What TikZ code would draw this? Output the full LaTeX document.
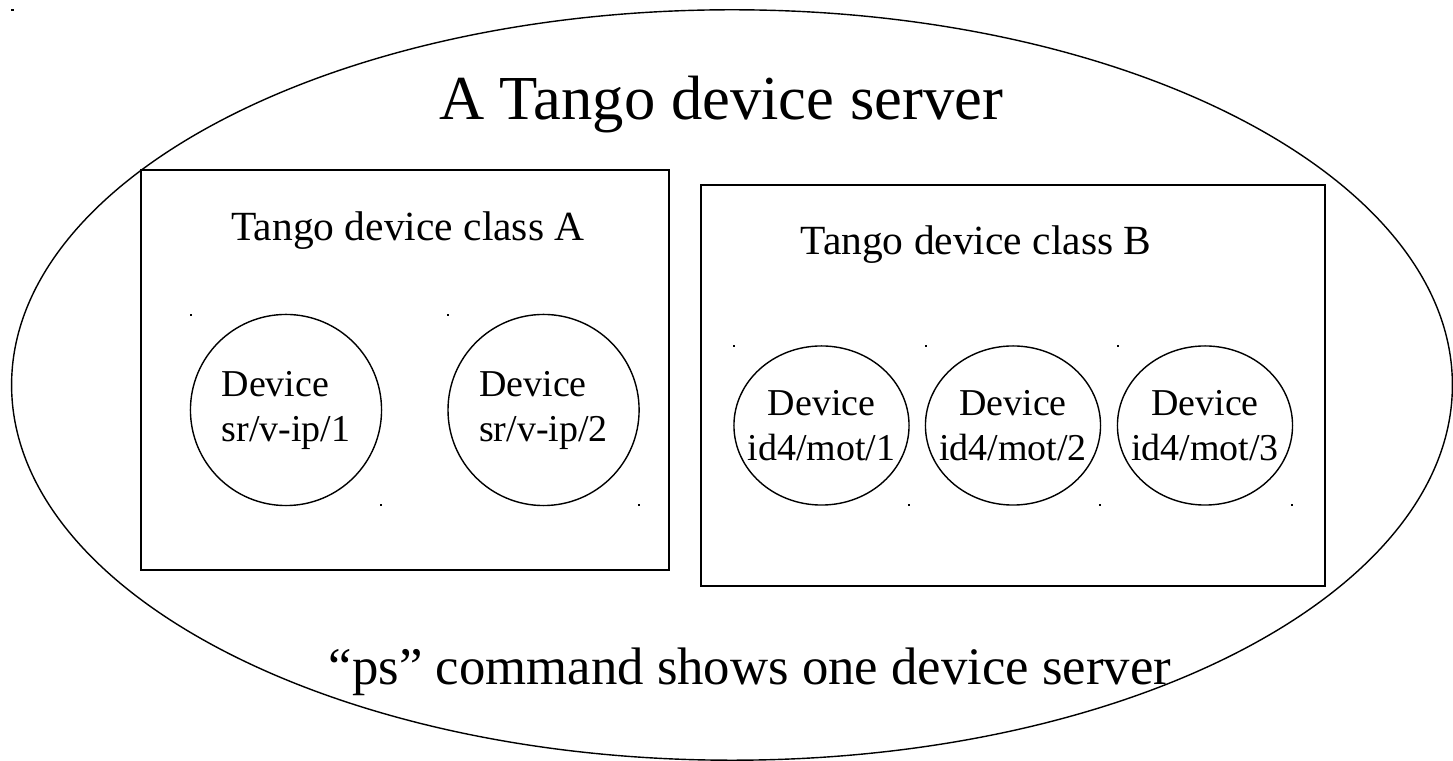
\documentclass[tikz,border=0pt]{standalone}
\usepackage{fontspec}
\setmainfont{Liberation Serif}
\usetikzlibrary{shapes,positioning}

\begin{document}
\begin{tikzpicture}[x=0.01cm, y=-0.01cm, node distance=0.65cm, inner sep=0pt]
        % Define block styles
        \tikzstyle{server} = [ellipse, draw, minimum width=14.4cm, minimum height=7.5cm]
        \tikzstyle{classbox} = [rectangle, draw]
        \tikzstyle{device} = [circle, draw, minimum size=1.91cm, align=left, font=\fontsize{10.8}{12.8}\selectfont]
        \tikzstyle{devoval} = [ellipse, draw, minimum width=1.75cm, minimum height=1.59cm]
        \tikzstyle{devtext} = [align=center, font=\fontsize{10.8}{12.8}\selectfont]
        \tikzstyle{label} = [anchor=base]

        \useasboundingbox (0,0) rectangle (1453,761);

        % Server and classes
        \node [server] (Server) at (732,385) {};
        \node [classbox, minimum width=5.28cm, minimum height=4cm] (Class_A) at (405,370) {};
        \node [classbox, minimum width=6.24cm, minimum height=4.01cm] (Class_B) at (1013,385.5) {};

        % Texts
        \node [label, font=\fontsize{17.8}{20}\selectfont] (Server_Name) at (721,120) {A Tango device server};
        \node [label, font=\fontsize{11.8}{14}\selectfont] (Class_A_Name) at (408,241) {Tango device class A};
        \node [label, font=\fontsize{11.8}{14}\selectfont] (Class_B_Name) at (976,255) {Tango device class B};
        \node [label, font=\fontsize{15}{18}\selectfont] (Ps_Note) at (750,685) {``ps'' command shows one device server};

        % Devices of class A
        \node [device] (Dev_A1) at (286,410) {Device\\sr/v-ip/1};
        \node [device, right=of Dev_A1] (Dev_A2) {Device\\sr/v-ip/2};

        % Devices of class B
        \node [devoval] (Dev_B1) at (821.5,425.5) {};
        \node [devoval] (Dev_B2) at (1013,425.5) {};
        \node [devoval] (Dev_B3) at (1205,425.5) {};
        \node [devtext] (Dev_B1_Text) at (Dev_B1) {Device\\id4/mot/1};
        \node [devtext] (Dev_B2_Text) at (Dev_B2) {Device\\id4/mot/2};
        \node [devtext] (Dev_B3_Text) at (Dev_B3) {Device\\id4/mot/3};

        % Corner ticks
        \fill (Server.west |- Server.north) rectangle ++(3,2);
        \foreach \d in {Dev_A1,Dev_A2,Dev_B1,Dev_B2,Dev_B3} {
            \fill (\d.west |- \d.north) rectangle ++(2,2);
            \fill (\d.east |- \d.south) rectangle ++(-2,-2);
        }
    \end{tikzpicture}
\end{document}
